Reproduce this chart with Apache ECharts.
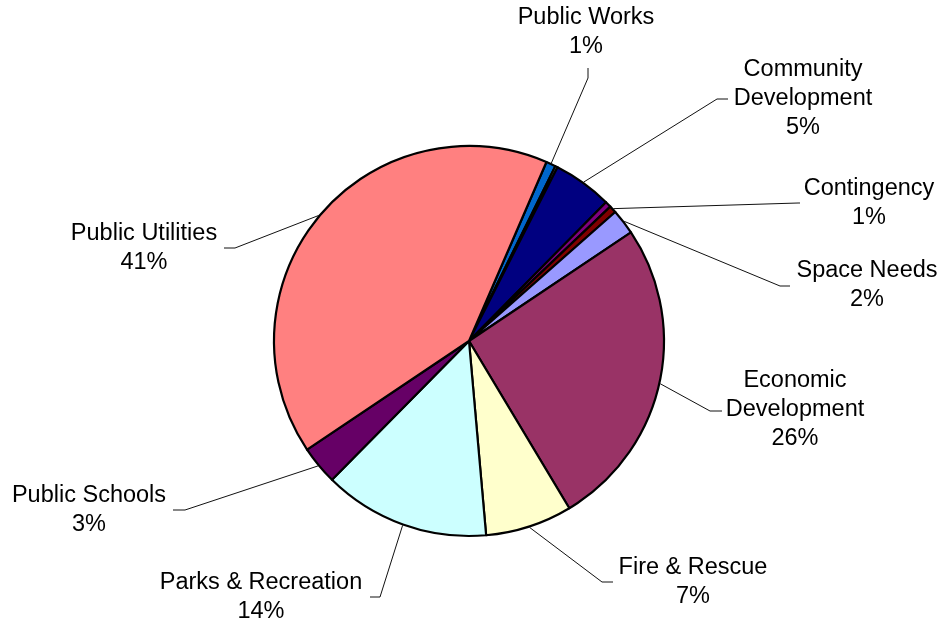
<!DOCTYPE html>
<html><head><meta charset="utf-8">
<script src="https://cdn.jsdelivr.net/npm/echarts@6/dist/echarts.min.js"></script>
<style>html,body{margin:0;padding:0;background:#fff}#c{width:943px;height:625px}</style>
</head><body><div id="c"></div>
<script>
// ---- data ----
const categories = ['Public Works', 'Other (a)', 'Community\nDevelopment', 'Other (b)', 'Contingency', 'Space Needs',
  'Economic\nDevelopment', 'Fire & Rescue', 'Parks & Recreation', 'Public Schools', 'Public Utilities'];
const values = [0.8, 0.2, 4.9, 0.5, 0.6, 2.1, 25.8, 7.2, 13.8, 3.2, 40.9];
const showLabel = [true, false, true, false, true, true, true, true, true, true, true];
const colors = ['#0066CC', '#FFFFFF', '#000080', '#800080', '#800000', '#9999FF',
  '#993366', '#FFFFCC', '#CCFFFF', '#660066', '#FF8080'];

// ---- layout (label block centre, leader bend point, leader end point) ----
const CX = 469, CY = 341, R = 195, FIRST_SLICE_DEG = 23.4;
const labelAnchors = [
  [586, 32, 588, 78, 588, 68],
  [0, 0, 0, 0, 0, 0],
  [803, 99, 717, 99, 728, 99],
  [0, 0, 0, 0, 0, 0],
  [869, 203, 798, 203, 800, 203],
  [867, 285, 780, 286, 790, 286],
  [795, 410, 710, 411, 722, 411],
  [693, 582, 602, 582, 613, 582],
  [261, 597, 380, 597, 370, 597],
  [89, 510, 185, 510, 173, 510],
  [144, 248, 235, 248, 224, 248]
];

const total = values.reduce((a, b) => a + b, 0);
const midAngles = [];
let cum = 0;
values.forEach(v => { midAngles.push((FIRST_SLICE_DEG + 360 * (cum + v / 2) / total) * Math.PI / 180); cum += v; });

const data = categories.map((n, i) => ({
  name: n, value: values[i],
  itemStyle: { color: colors[i] },
  label: { show: showLabel[i] },
  labelLine: { show: showLabel[i] }
}));

const chart = echarts.init(document.getElementById('c'), null, { renderer: 'canvas' });
chart.setOption({
  animation: false,
  backgroundColor: '#fff',
  series: [{
    type: 'pie',
    center: [CX, CY],
    radius: [0, R],
    startAngle: 90 - FIRST_SLICE_DEG,
    clockwise: true,
    avoidLabelOverlap: false,
    silent: true,
    emphasis: { disabled: true },
    itemStyle: { borderColor: '#000', borderWidth: 2.2 },
    label: {
      position: 'outside',
      alignTo: 'none',
      overflow: 'none',
      formatter: p => p.name + '\n' + Math.round(p.value / total * 100) + '%',
      fontFamily: 'Liberation Sans, Arial, sans-serif',
      fontSize: 23.5,
      lineHeight: 29,
      color: '#000',
      align: 'center'
    },
    labelLine: { show: true, length: 5, length2: 5, lineStyle: { color: '#111', width: 1 } },
    labelLayout: function (p) {
      const i = p.dataIndex;
      if (!showLabel[i]) return {};
      const a = labelAnchors[i];
      const ang = midAngles[i];
      const sx = CX + (R + 1) * Math.sin(ang), sy = CY - (R + 1) * Math.cos(ang);
      return {
        x: a[0], y: a[1], align: 'center', verticalAlign: 'middle',
        labelLinePoints: [[sx, sy], [a[2], a[3]], [a[4], a[5]]]
      };
    },
    data: data
  }]
});
</script>
</body></html>
